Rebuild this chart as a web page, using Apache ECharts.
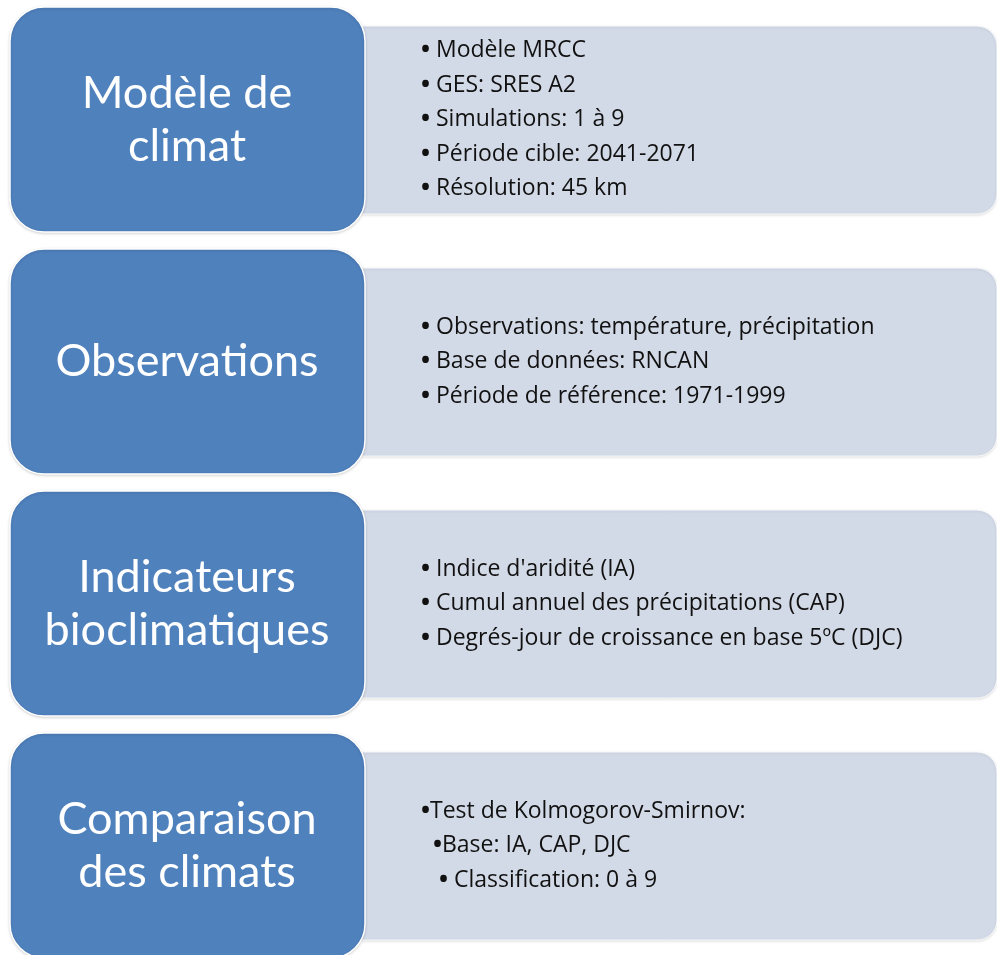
<!DOCTYPE html>
<html>
<head>
<meta charset="utf-8">
<script src="https://cdn.jsdelivr.net/npm/echarts@6/dist/echarts.min.js"></script>
<style>html,body{margin:0;padding:0;background:#fff;}#c{width:997px;height:955px;}</style>
</head>
<body>
<div id="c"></div>
<script>
// Diagram content
var titles = [
  ["Modèle de", "climat"],
  ["Observations"],
  ["Indicateurs", "bioclimatiques"],
  ["Comparaison", "des climats"]
];
var items = [
  ["• Modèle MRCC", "• GES: SRES A2", "• Simulations: 1 à 9", "• Période cible: 2041-2071", "• Résolution: 45 km"],
  ["• Observations: température, précipitation", "• Base de données: RNCAN", "• Période de référence: 1971-1999"],
  ["• Indice d'aridité (IA)", "• Cumul annuel des précipitations (CAP)", "• Degrés-jour de croissance en base 5ºC (DJC)"],
  ["•Test de Kolmogorov-Smirnov:", "  •Base: IA, CAP, DJC", "   • Classification: 0 à 9"]
];

var chart = echarts.init(document.getElementById('c'), null, {renderer: 'canvas'});
var ROW = 242, TOP = 7;
var BLUE = '#4F81BD', GREY = '#D3DAE7';
var TFONT = 'Lato, "Open Sans", sans-serif';
var IFONT = '"Open Sans", Lato, sans-serif';
var elements = [];
titles.forEach(function (t, i) {
  var y0 = TOP + i * ROW;
  elements.push({
    type: 'rect', z: 1,
    shape: {x: 362, y: y0 + 19, width: 635, height: 188, r: [0, 20, 20, 0]},
    style: {fill: GREY, stroke: 'rgba(255,255,255,0.8)', lineWidth: 1,
      shadowBlur: 3, shadowColor: 'rgba(0,0,0,0.12)', shadowOffsetY: 1}
  });
  elements.push({
    type: 'rect', z: 3,
    shape: {x: 10, y: y0, width: 355, height: 225, r: 34},
    style: {fill: BLUE, stroke: '#ffffff', lineWidth: 1.5,
      shadowBlur: 3, shadowColor: 'rgba(0,0,0,0.15)', shadowOffsetY: 1}
  });
  var lh = 53;
  var cy = y0 + 112.5;
  t.forEach(function (line, k) {
    elements.push({
      type: 'text', z: 4,
      style: {text: line, x: 187, y: cy + (k - (t.length - 1) / 2) * lh,
        fill: '#ffffff', font: '45px ' + TFONT, align: 'center', verticalAlign: 'middle'}
    });
  });
  var its = items[i];
  var ilh = 34.5;
  var icy = y0 + 112.5;
  its.forEach(function (line, k) {
    var m = line.match(/^(\s*)•(\s*)(.*)$/);
    var rt = '{s|' + m[1] + '}{b|•}{s|' + m[2] + '}{t|' + m[3] + '}';
    elements.push({
      type: 'text', z: 4,
      style: {text: rt, x: 421, y: icy + (k - (its.length - 1) / 2) * ilh,
        fill: '#111111', font: '23px ' + IFONT, align: 'left', verticalAlign: 'middle',
        rich: {
          s: {fontFamily: IFONT, fontSize: 23, fill: '#111111'},
          b: {fontFamily: IFONT, fontSize: 24, fontWeight: 'bold', fill: '#111111'},
          t: {fontFamily: IFONT, fontSize: 23, fill: '#111111'}
        }}
    });
  });
});

chart.setOption({
  animation: false,
  backgroundColor: '#ffffff',
  graphic: {elements: elements}
});
</script>
</body>
</html>
